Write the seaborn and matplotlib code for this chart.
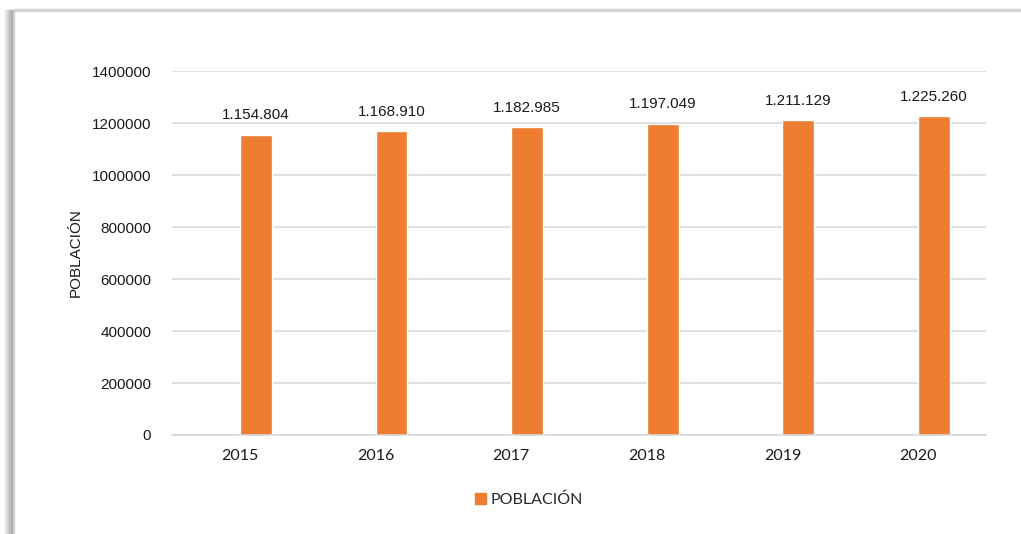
import numpy as np
import pandas as pd
import seaborn as sns
import matplotlib.pyplot as plt
from matplotlib.patches import Rectangle, Patch

# datos de la grafica
anios = ["2015", "2016", "2017", "2018", "2019", "2020"]
poblacion = [1154804, 1168910, 1182985, 1197049, 1211129, 1225260]
serie = "POBLACIÓN"
y_ticks = [0, 200000, 400000, 600000, 800000, 1000000, 1200000, 1400000]

naranja = "#ED7D31"
gris_grid = "#D9D9D9"

# serie vacia al lado (como en excel) para que la barra quede desplazada
df = pd.DataFrame({
    "anio": anios * 2,
    "valor": poblacion + [np.nan] * len(anios),
    "serie": [serie] * len(anios) + ["vacio"] * len(anios),
})

sns.set_style("white")
plt.rcParams["font.family"] = ["Liberation Sans", "DejaVu Sans"]

fig = plt.figure(figsize=(10.21, 5.34), dpi=100)
ax = fig.add_axes([0.1685, 0.1854, 0.7972, 0.6816])

sns.barplot(data=df, x="anio", y="valor", hue="serie",
            hue_order=["vacio", serie], palette=["white", naranja],
            width=0.47, dodge=True, legend=False, ax=ax, saturation=1)

ax.set_ylim(0, 1400000)
ax.set_yticks(y_ticks)
ax.set_yticklabels([str(t) for t in y_ticks], fontsize=11, color="#1a1a1a")
ax.set_xticklabels(anios, fontsize=11.5, family="Lato", color="#1a1a1a")
ax.tick_params(axis="both", length=0)
ax.tick_params(axis="y", pad=15)
ax.tick_params(axis="x", pad=10)
ax.yaxis.grid(True, color=gris_grid, linewidth=1.2)
ax.set_axisbelow(True)
for s in ["top", "right", "left"]:
    ax.spines[s].set_visible(False)
ax.spines["bottom"].set_color(gris_grid)
ax.spines["bottom"].set_linewidth(1.2)
ax.set_xlabel("")
ax.set_ylabel("POBLACIÓN", fontsize=11, color="#1a1a1a")
ax.yaxis.set_label_coords(-0.11, 0.5)

# etiquetas de datos con punto de miles
for cont in ax.containers:
    vals = [b.get_height() for b in cont]
    if np.all(np.isnan(vals)):
        continue
    etiquetas = [f"{int(v):,}".replace(",", ".") for v in vals]
    ax.bar_label(cont, labels=etiquetas, padding=9, fontsize=11, color="#1a1a1a")

# leyenda
leg = fig.legend(handles=[Patch(color=naranja, label=serie)], loc="center",
                 bbox_to_anchor=(0.518, 0.064), frameon=False,
                 handlelength=0.7, handleheight=0.7, handletextpad=0.3,
                 prop={"family": "Lato", "size": 11.5})

# marco con sombra (borde de la imagen original)
fig.patches.append(Rectangle((14 / 1021, 523 / 534), 1, 2 / 534,
                             transform=fig.transFigure, color="#D4D4D4"))
for i, g in enumerate(["#F6F6F6", "#EEEEEE", "#E4E4E4", "#D9D9D9", "#CECECE",
                       "#C3C3C3", "#B9B9B9", "#B0B0B0", "#A8A8A8", "#CFCFCF"]):
    fig.patches.append(Rectangle(((4 + i) / 1021, 0), 1 / 1021, 524 / 534,
                                 transform=fig.transFigure, color=g))

fig.savefig("out.png", dpi=100)
